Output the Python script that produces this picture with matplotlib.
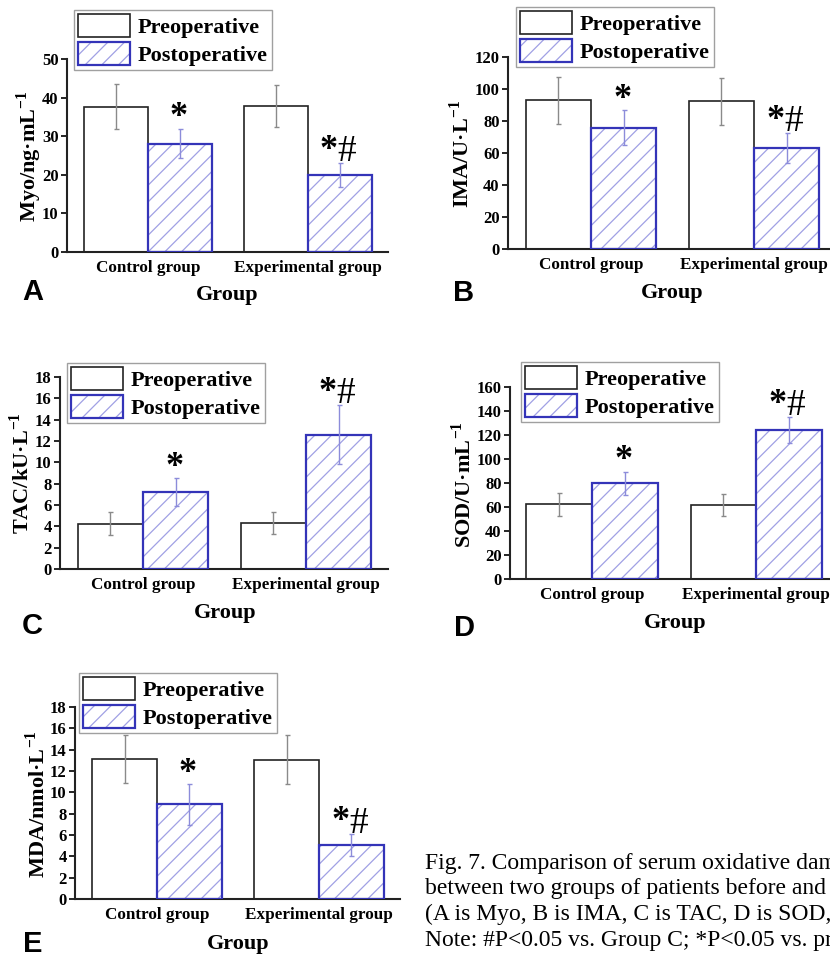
import numpy as np
import matplotlib
matplotlib.use('Agg')
import matplotlib.pyplot as plt
from matplotlib.patches import Patch

plt.rcParams['font.family'] = 'Liberation Serif'
plt.rcParams['font.weight'] = 'bold'
plt.rcParams['mathtext.fontset'] = 'custom'
plt.rcParams['mathtext.rm'] = 'Liberation Serif'
plt.rcParams['mathtext.bf'] = 'Liberation Serif:bold'
plt.rcParams['hatch.linewidth'] = 0.9

# data (mean and SD)
groups = ['Control group', 'Experimental group']
series = ['Preoperative', 'Postoperative']
marks = ['*', '*#']

myo_pre = [37.6, 37.8]
myo_pre_sd = [5.8, 5.4]
myo_post = [28.1, 19.9]
myo_post_sd = [3.8, 3.1]

ima_pre = [92.9, 92.3]
ima_pre_sd = [14.5, 14.7]
ima_post = [75.8, 63.1]
ima_post_sd = [11.0, 9.6]

tac_pre = [4.25, 4.3]
tac_pre_sd = [1.05, 1.05]
tac_post = [7.2, 12.6]
tac_post_sd = [1.3, 2.8]

sod_pre = [62.1, 61.6]
sod_pre_sd = [9.4, 9.4]
sod_post = [79.6, 124.0]
sod_post_sd = [9.7, 10.8]

mda_pre = [13.16, 13.07]
mda_pre_sd = [2.26, 2.26]
mda_post = [8.86, 5.05]
mda_post_sd = [1.9, 1.0]

caption = ['Fig. 7. Comparison of serum oxidative damage indexes',
           'between two groups of patients before and after surgery',
           '(A is Myo, B is IMA, C is TAC, D is SOD, and E is MDA)',
           'Note: #P<0.05 vs. Group C; *P<0.05 vs. preoperative']

W, H = 830, 956
fig = plt.figure(figsize=(W / 100, H / 100), dpi=100)

PRE_EDGE = '#222222'
POST_EDGE = '#3434b8'
HATCH_COL = '#a0a0e4'

# letter, ylabel, data, ymax, step, axes box px (l, t, r, b), xlim,
# legend corner px, ylabel centre px, xlabel centre px, letter px
panels = [
    ('A', 'Myo/ng·mL$^{\\mathbf{-1}}$', myo_pre, myo_pre_sd, myo_post, myo_post_sd, 50, 10,
     (67, 59, 388, 252), (-0.506, 1.5), (74, 10), (29, 156), (227, 295), (22, 292)),
    ('B', 'IMA/U·L$^{\\mathbf{-1}}$', ima_pre, ima_pre_sd, ima_post, ima_post_sd, 120, 20,
     (508, 57, 830, 249), (-0.509, 1.466), (516, 7), (461, 154), (672, 293), (453, 293)),
    ('C', 'TAC/kU·L$^{\\mathbf{-1}}$', tac_pre, tac_pre_sd, tac_post, tac_post_sd, 18, 2,
     (60, 377, 388, 569), (-0.509, 1.503), (67, 363), (22, 473), (225, 613), (22, 626)),
    ('D', 'SOD/U·mL$^{\\mathbf{-1}}$', sod_pre, sod_pre_sd, sod_post, sod_post_sd, 160, 20,
     (510, 387, 830, 579), (-0.5, 1.45), (521, 362), (463, 485), (675, 623), (454, 628)),
    ('E', 'MDA/nmol·L$^{\\mathbf{-1}}$', mda_pre, mda_pre_sd, mda_post, mda_post_sd, 18, 2,
     (75, 707, 400, 899), (-0.506, 1.5), (79, 673), (37, 804), (238, 944), (23, 930)),
]

x = np.arange(len(groups))
w = 0.4

for (letter, ylab, pre, pre_sd, post, post_sd, ymax, step,
     box, xlim, leg_xy, ylab_xy, xlab_xy, let_xy) in panels:
    l, t, r, b = box
    ax = fig.add_axes([l / W, 1 - b / H, (r - l) / W, (b - t) / H])

    ax.bar(x - w / 2, pre, w, color='white', edgecolor=PRE_EDGE, linewidth=1.2, zorder=2)
    ax.bar(x + w / 2, post, w, color='white', edgecolor=HATCH_COL, hatch='//',
           linewidth=0, zorder=2)
    ax.bar(x + w / 2, post, w, fill=False, edgecolor=POST_EDGE, linewidth=1.6, zorder=3)
    ax.errorbar(x - w / 2, pre, yerr=pre_sd, fmt='none', ecolor='#8a8a8a',
                elinewidth=1, capsize=1.8, capthick=1, zorder=4)
    ax.errorbar(x + w / 2, post, yerr=post_sd, fmt='none', ecolor='#8c8cda',
                elinewidth=1, capsize=1.8, capthick=1, zorder=4)

    # significance marks
    for i in range(len(groups)):
        top = post[i] + post_sd[i]
        if marks[i] == '*':
            ax.annotate('*', (x[i] + w / 2, top), xytext=(-1, 8), textcoords='offset points',
                        ha='center', va='center', fontsize=26, fontweight='bold',
                        annotation_clip=False)
        else:
            ax.annotate('*', (x[i] + w / 2, top), xytext=(-8, 9), textcoords='offset points',
                        ha='center', va='center', fontsize=26, fontweight='bold',
                        annotation_clip=False)
            ax.annotate('#', (x[i] + w / 2, top), xytext=(5, 8), textcoords='offset points',
                        ha='center', va='center', fontsize=27, fontweight='normal',
                        annotation_clip=False)

    ax.set_xlim(*xlim)
    ax.set_ylim(0, ymax)
    ax.set_yticks(np.arange(0, ymax + step, step))
    ax.set_xticks(x)
    ax.set_xticklabels(groups)
    ax.tick_params(axis='y', length=4, width=1.2, direction='out', pad=2, labelsize=12)
    ax.tick_params(axis='x', length=0, pad=6, labelsize=12.3)
    for s in ['top', 'right']:
        ax.spines[s].set_visible(False)
    for s in ['left', 'bottom']:
        ax.spines[s].set_linewidth(1.5)
        ax.spines[s].set_color('#222222')

    ax.set_ylabel(ylab, fontsize=16, fontweight='bold', va='center')
    ax.yaxis.set_label_coords((ylab_xy[0] - l) / (r - l), (b - ylab_xy[1]) / (b - t))
    ax.set_xlabel('Group', fontsize=16, fontweight='bold', va='center')
    ax.xaxis.set_label_coords((xlab_xy[0] - l) / (r - l), (b - xlab_xy[1]) / (b - t))

    h_pre = Patch(facecolor='white', edgecolor=PRE_EDGE, linewidth=1.2)
    h_post = (Patch(facecolor='white', edgecolor=HATCH_COL, hatch='//', linewidth=0),
              Patch(fill=False, edgecolor=POST_EDGE, linewidth=1.6))
    leg = fig.legend([h_pre, h_post], series, loc='upper left',
                     bbox_to_anchor=(leg_xy[0] / W, 1 - leg_xy[1] / H),
                     bbox_transform=fig.transFigure, borderaxespad=0,
                     fancybox=False, framealpha=1, edgecolor='#a0a0a0',
                     borderpad=0.2, labelspacing=0.2, handlelength=2.3,
                     handleheight=1.15, handletextpad=0.35,
                     prop={'family': 'Liberation Serif', 'weight': 'bold', 'size': 16})
    leg.get_frame().set_linewidth(1.0)

    va = 'top' if letter == 'E' else 'center'
    fig.text(let_xy[0] / W, 1 - let_xy[1] / H, letter, family='Liberation Sans',
             fontweight='bold', fontsize=21, ha='left', va=va)

for k, line in enumerate(caption):
    fig.text(425 / W, 1 - (863 + 25.7 * k) / H, line, fontsize=17, fontweight='normal',
             ha='left', va='center')

fig.savefig('out.png', dpi=100)
